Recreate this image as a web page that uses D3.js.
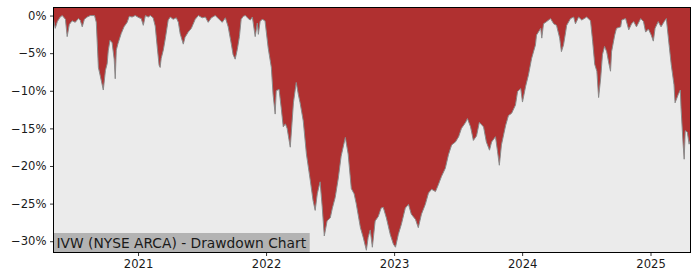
<!DOCTYPE html>
<html>
<head>
<meta charset="utf-8">
<script src="https://cdn.jsdelivr.net/npm/d3@7"></script>
<style>
  html, body { margin: 0; padding: 0; background: #ffffff; }
  svg { display: block; }
</style>
</head>
<body>
<div id="chart"></div>
<script>
const title = "IVW (NYSE ARCA) - Drawdown Chart";
const dates = [
"2020-05-04","2020-05-10","2020-05-16","2020-05-24","2020-05-30","2020-06-08","2020-06-13","2020-06-19","2020-06-27",
"2020-07-06","2020-07-15","2020-07-20","2020-07-26","2020-08-01","2020-08-09","2020-08-18","2020-08-30","2020-09-04",
"2020-09-10","2020-09-18","2020-09-24","2020-09-30","2020-10-05","2020-10-08","2020-10-13","2020-10-19","2020-10-25",
"2020-10-28","2020-10-31","2020-11-05","2020-11-14","2020-11-22","2020-12-01","2020-12-07","2020-12-15","2020-12-24",
"2021-01-04","2021-01-10","2021-01-16","2021-01-22","2021-01-30","2021-02-05","2021-02-13","2021-02-19","2021-02-25",
"2021-03-02","2021-03-05","2021-03-08","2021-03-14","2021-03-20","2021-03-28","2021-04-03","2021-04-11","2021-04-20",
"2021-04-26","2021-05-01","2021-05-10","2021-05-15","2021-05-24","2021-06-02","2021-06-13","2021-06-22","2021-07-03",
"2021-07-12","2021-07-20","2021-07-29","2021-08-09","2021-08-18","2021-08-29","2021-09-07","2021-09-15","2021-09-24",
"2021-09-29","2021-10-05","2021-10-11","2021-10-17","2021-10-22","2021-10-28","2021-11-03","2021-11-11","2021-11-17",
"2021-11-23","2021-12-01","2021-12-07","2021-12-10","2021-12-15","2021-12-21","2021-12-29",
"2022-01-07","2022-01-16","2022-01-21","2022-01-27","2022-01-30","2022-02-07","2022-02-13","2022-02-19","2022-02-25",
"2022-03-02","2022-03-11","2022-03-20","2022-03-28","2022-04-03","2022-04-08","2022-04-17","2022-04-26","2022-05-07",
"2022-05-15","2022-05-21","2022-05-27","2022-06-04","2022-06-10","2022-06-16","2022-06-24","2022-07-03","2022-07-09",
"2022-07-17","2022-07-26","2022-08-03","2022-08-15","2022-08-23","2022-09-01","2022-09-09","2022-09-15","2022-09-27",
"2022-10-05","2022-10-14","2022-10-19","2022-10-25","2022-10-31","2022-11-08","2022-11-17","2022-11-25","2022-12-01",
"2022-12-10","2022-12-21","2022-12-30",
"2023-01-05","2023-01-13","2023-01-22","2023-02-02","2023-02-11","2023-02-19","2023-03-03","2023-03-11","2023-03-20",
"2023-03-31","2023-04-09","2023-04-18","2023-04-29","2023-05-07","2023-05-16","2023-05-27","2023-06-05","2023-06-14",
"2023-06-25","2023-07-04","2023-07-12","2023-07-24","2023-07-29","2023-08-07","2023-08-15","2023-08-24","2023-09-01",
"2023-09-13","2023-09-21","2023-09-30","2023-10-06","2023-10-17","2023-10-23","2023-10-28","2023-11-03","2023-11-15",
"2023-11-23","2023-12-02","2023-12-13","2023-12-19","2023-12-28",
"2024-01-02","2024-01-11","2024-01-19","2024-01-28","2024-02-08","2024-02-11","2024-02-23","2024-02-26","2024-03-02",
"2024-03-11","2024-03-22","2024-03-31","2024-04-08","2024-04-17","2024-04-22","2024-04-28","2024-05-04","2024-05-07",
"2024-05-18","2024-05-27","2024-06-01","2024-06-10","2024-06-19","2024-07-03","2024-07-14","2024-07-20","2024-07-26",
"2024-08-01","2024-08-06","2024-08-12","2024-08-17","2024-08-23","2024-08-29","2024-09-04","2024-09-09","2024-09-12",
"2024-09-21","2024-09-26","2024-10-08","2024-10-11","2024-10-22","2024-10-31","2024-11-08","2024-11-14","2024-11-22",
"2024-12-04","2024-12-12","2024-12-18","2024-12-26",
"2025-01-03","2025-01-09","2025-01-14","2025-01-23","2025-01-31","2025-02-09","2025-02-15","2025-02-23","2025-03-01",
"2025-03-09","2025-03-12","2025-03-21","2025-03-27","2025-03-29","2025-04-04","2025-04-07","2025-04-10","2025-04-16",
"2025-04-21","2025-04-25"
];
const drawdown = [
-0.3,-1.7,-0.8,-0.2,0,-0.5,-2.8,-1.2,-0.7,
-0.9,-0.4,-0.6,-1.5,-0.5,-0.2,0,0,-0.9,
-6.9,-8.6,-9.9,-7.3,-6.4,-4.7,-3.3,-3.6,-5.8,
-8.4,-4.6,-3.7,-2.4,-1.5,-0.9,-0.1,-0.2,0,
-0.3,-0.4,-1.3,0,-0.2,0,-0.3,-1.4,-4.3,
-6.6,-6.9,-5.7,-4.6,-3.0,-0.6,-0.2,-0.5,-0.3,
-0.9,-2.4,-3.8,-2.9,-2.2,-1.7,-0.5,0,-0.3,
-0.2,-0.9,-0.3,0,-0.4,-0.9,-0.3,-1.5,-3.8,
-5.2,-5.8,-4.5,-2.8,-0.5,-0.1,0,-0.4,-0.6,
-0.2,-2.8,-1.0,-2.5,-0.8,-0.5,-0.7,
-4.3,-6.9,-10.5,-13.1,-10.0,-9.8,-12.2,-14.8,-14.4,
-15.0,-17.5,-11.6,-8.9,-10.5,-11.6,-14.0,-18.4,-21.9,
-24.6,-25.9,-23.7,-22.1,-25.4,-29.3,-27.3,-26.9,-25.6,
-24.2,-21.6,-18.7,-16.2,-18.4,-23.0,-23.7,-25.0,-28.2,
-29.5,-31.2,-29.5,-28.5,-30.8,-27.3,-26.7,-25.6,-25.5,
-26.9,-29.1,-30.4,
-30.8,-29.1,-27.7,-25.6,-25.1,-26.4,-27.1,-28.2,-26.4,
-25.1,-23.6,-23.1,-23.4,-22.5,-21.4,-20.3,-18.5,-17.2,
-16.8,-16.1,-15.0,-14.2,-13.7,-14.8,-16.6,-16.0,-14.2,
-14.8,-16.8,-17.9,-16.8,-16.1,-18.1,-19.9,-17.2,-14.6,
-13.3,-13.0,-11.9,-10.1,-9.7,
-11.5,-9.4,-7.9,-5.7,-3.9,-2.6,-1.7,-3.0,-1.1,
-0.8,-0.4,-1.1,-1.3,-3.0,-4.8,-3.9,-2.2,-1.3,
-0.4,-0.2,-1.1,-0.2,-0.6,-0.2,-0.7,-3.4,-6.5,
-7.4,-10.9,-8.3,-5.2,-4.1,-4.8,-6.3,-7.4,-4.8,
-2.6,-1.7,-1.5,-0.6,-0.4,-1.9,-1.1,-0.8,-1.5,
-0.4,-0.8,-2.2,-1.8,
-2.6,-3.4,-1.7,-0.8,-1.5,-0.8,-0.4,-3.9,-6.5,
-9.2,-11.6,-10.5,-9.9,-12.3,-17.1,-19.1,-15.3,-15.5,
-17.1,-16.5
];
const yTicks = [0, -5, -10, -15, -20, -25, -30];
const xTickYears = ["2021", "2022", "2023", "2024", "2025"];

const W = 700, H = 280;
const m = { left: 53.5, right: 690.5, top: 7.5, bottom: 252.5 };
const parse = d3.timeParse("%Y-%m-%d");
const data = dates.map((d, i) => ({ date: parse(d), v: drawdown[i] }));

const x = d3.scaleTime()
  .domain([parse("2020-05-05"), parse("2025-04-25")])
  .range([m.left, m.right]);
const y = d3.scaleLinear()
  .domain([-31.5, 1.07])
  .range([m.bottom, m.top]);

const svg = d3.select("#chart").append("svg").attr("width", W).attr("height", H);

svg.append("rect")
  .attr("x", m.left).attr("y", m.top)
  .attr("width", m.right - m.left).attr("height", m.bottom - m.top)
  .attr("fill", "#ebebeb");

const clip = svg.append("clipPath").attr("id", "clip")
  .append("rect").attr("x", m.left).attr("y", m.top)
  .attr("width", m.right - m.left).attr("height", m.bottom - m.top);

const g = svg.append("g").attr("clip-path", "url(#clip)");

g.append("path")
  .datum(data)
  .attr("fill", "#b03030")
  .attr("d", d3.area().x(d => x(d.date)).y0(m.top).y1(d => y(d.v)));

g.append("path")
  .datum(data)
  .attr("fill", "none")
  .attr("stroke", "#8a8a8a")
  .attr("stroke-width", 1)
  .attr("d", d3.line().x(d => x(d.date)).y(d => y(d.v)));

// label box
const label = svg.append("g");
const lt = label.append("text")
  .attr("x", m.left + 3).attr("y", m.bottom - 5)
  .attr("font-family", "DejaVu Sans")
  .attr("font-size", 13.8)
  .attr("fill", "#1a1a1a")
  .text(title);
const bb = lt.node().getBBox();
label.insert("rect", "text")
  .attr("x", m.left).attr("y", m.bottom - 19.5)
  .attr("width", bb.width + 6).attr("height", 19.5)
  .attr("fill", "#b3b3b3");

// axes
const fmtY = v => (v < 0 ? "\u2212" + Math.abs(v) : String(v)) + "%";
const yAxis = d3.axisLeft(y).tickValues(yTicks).tickSize(3.5).tickPadding(3.5).tickFormat(fmtY);
const xAxis = d3.axisBottom(x)
  .tickValues(xTickYears.map(s => parse(s + "-01-01")))
  .tickSize(3.5).tickPadding(3.5)
  .tickFormat(d3.timeFormat("%Y"));

const ya = svg.append("g").attr("transform", `translate(${m.left},0)`).call(yAxis);
const xa = svg.append("g").attr("transform", `translate(0,${m.bottom})`).call(xAxis);
[ya, xa].forEach(a => {
  a.select(".domain").remove();
  a.selectAll("text").attr("font-family", "DejaVu Sans").attr("font-size", 11.6).attr("fill", "#1a1a1a");
  a.selectAll("line").attr("stroke", "#000").attr("stroke-width", 0.8);
});

// spines
svg.append("rect")
  .attr("x", m.left).attr("y", m.top)
  .attr("width", m.right - m.left).attr("height", m.bottom - m.top)
  .attr("fill", "none").attr("stroke", "#000").attr("stroke-width", 1);
</script>
</body>
</html>
